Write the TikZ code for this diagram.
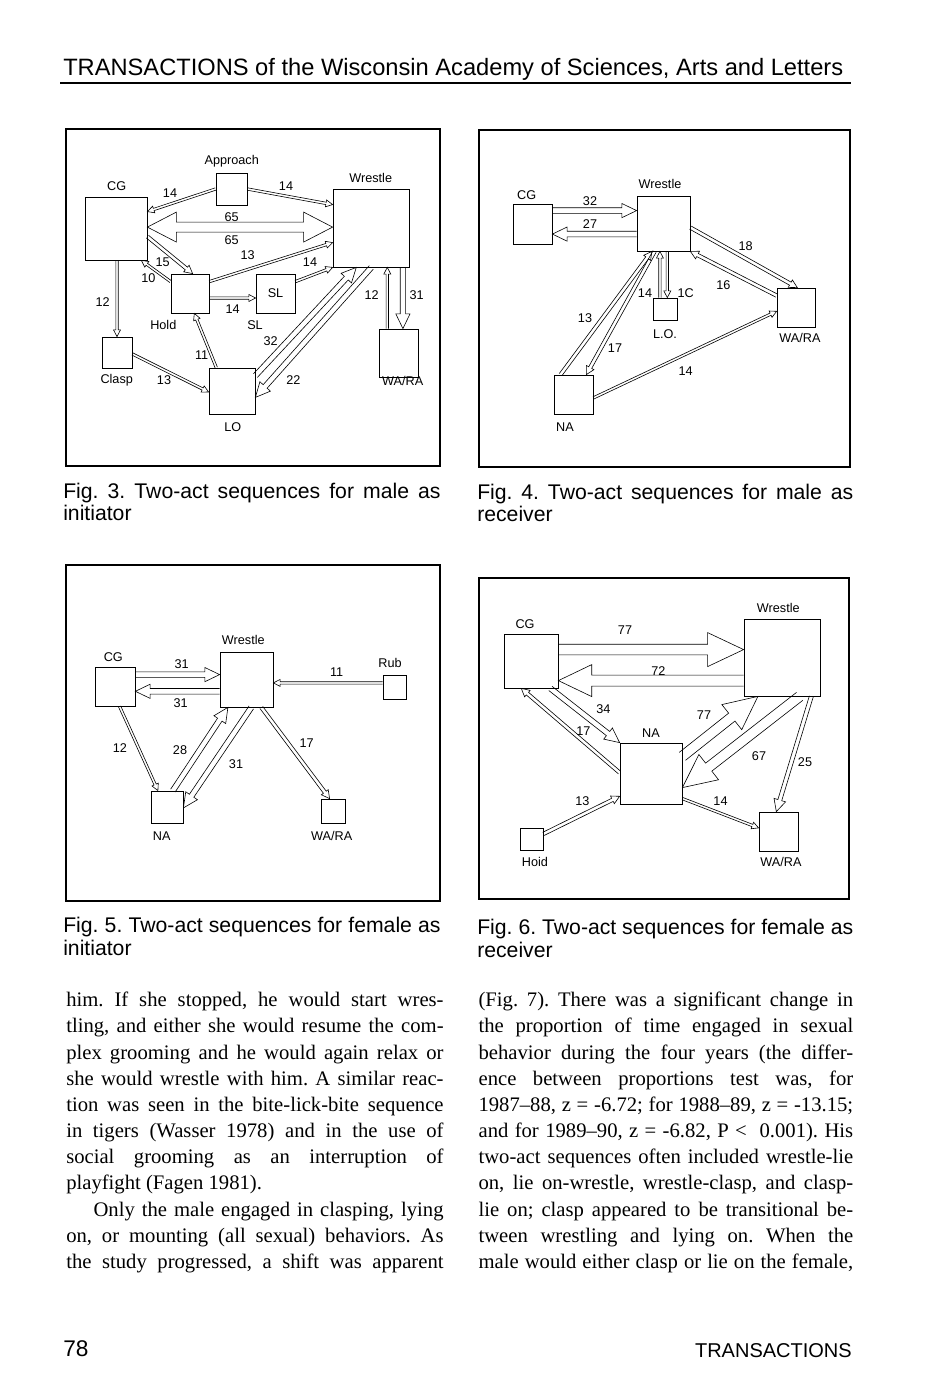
\documentclass[tikz,border=0pt]{standalone}
\usepackage{fontspec}
\setmainfont{Liberation Serif}
\newfontfamily\hv{Liberation Sans}
\usetikzlibrary{calc}
\frenchspacing
\tikzset{
 box/.style={draw, line width=0.6pt, inner sep=0pt, font=\hv\fontsize{9.5}{11}\selectfont},
 lbl/.style={inner sep=0pt, font=\hv\fontsize{9.5}{11}\selectfont},
 conn/.style={line width=0.45pt, line join=miter},
 frame/.style={draw, line width=1.5pt},
 body/.style={anchor=base west, inner sep=0pt, font=\fontsize{15.5}{19}\selectfont},
 capt/.style={anchor=base west, inner sep=0pt, font=\hv\fontsize{15.9}{19}\selectfont},
}
\newcommand\harr[5]{%
 \path #1 coordinate (hA);
 \path #2 coordinate (hB);
 \path ($(hB)!#5!(hA)$) coordinate (hN);
 \draw[conn] ($(hA)!#3!90:(hB)$) -- ($(hN)!#3!90:(hB)$) -- ($(hN)!#4!90:(hB)$) -- (hB) -- ($(hN)!#4!-90:(hB)$) -- ($(hN)!#3!-90:(hB)$) -- ($(hA)!#3!-90:(hB)$);
}
\newcommand\dharr[5]{%
 \path #1 coordinate (hA);
 \path #2 coordinate (hB);
 \path ($(hA)!#5!(hB)$) coordinate (hM);
 \path ($(hB)!#5!(hA)$) coordinate (hN);
 \draw[conn] (hA) -- ($(hM)!#4!90:(hB)$) -- ($(hM)!#3!90:(hB)$) -- ($(hN)!#3!90:(hB)$) -- ($(hN)!#4!90:(hB)$) -- (hB) -- ($(hN)!#4!-90:(hB)$) -- ($(hN)!#3!-90:(hB)$) -- ($(hM)!#3!-90:(hB)$) -- ($(hM)!#4!-90:(hB)$) -- cycle;
}
\newcommand\arrT[2]{\harr{#1}{#2}{0.9pt}{2.6pt}{5pt}}
\newcommand\arrS[2]{\harr{#1}{#2}{1.3pt}{3.2pt}{6pt}}
\newcommand\arrM[2]{\harr{#1}{#2}{2pt}{5.3pt}{11pt}}
\newcommand\bx[6]{\node[box, minimum width={(#4-#2)*0.75pt}, minimum height={(#5-#3)*0.75pt}] (#1) at ({(#2+#4)/2},{(#3+#5)/2}) {#6};}
\begin{document}
\begin{tikzpicture}[x=0.75pt,y=-0.75pt]
\useasboundingbox[fill=white] (0,0) rectangle (933,1380);

% header
\node[anchor=base west, inner sep=0pt, font=\hv\fontsize{17.75}{20}\selectfont] (hdr) at (63,76) {TRANSACTIONS of the Wisconsin Academy of Sciences, Arts and Letters};
\coordinate (rl) at (60,83);
\coordinate (rr) at (851,83);
\draw[line width=1.1pt] (rl) -- (rr);

% frames
\node[frame, minimum width={374*0.75pt}, minimum height={337*0.75pt}, inner sep=0pt] (f3) at (253,297.5) {};
\node[frame, minimum width={371*0.75pt}, minimum height={337*0.75pt}, inner sep=0pt] (f4) at (664.5,298.5) {};
\node[frame, minimum width={374*0.75pt}, minimum height={336*0.75pt}, inner sep=0pt] (f5) at (253,733) {};
\node[frame, minimum width={370*0.75pt}, minimum height={321*0.75pt}, inner sep=0pt] (f6) at (664,738.5) {};

% ---------- Fig 3 ----------
\bx{acg}{85}{197}{147}{260}{}
\bx{aap}{216}{173}{247}{205}{}
\bx{awr}{333}{189}{409}{267}{}
\bx{ahold}{171}{274}{209}{313}{}
\bx{asl}{256}{274}{295}{313}{SL}
\bx{acl}{102}{337}{132}{368}{}
\bx{alo}{209}{368}{255}{414}{}
\bx{awa}{379}{329}{418}{377}{}
\node[lbl] (aL1) at (231.7,161.7) {Approach};
\node[lbl] (aL2) at (116.7,185.7) {CG};
\node[lbl] (aL3) at (370.7,177.7) {Wrestle};
\node[lbl] (aL4) at (163.3,325) {Hold};
\node[lbl] (aL5) at (255,325) {SL};
\node[lbl] (aL6) at (116.7,380) {Clasp};
\node[lbl] (aL7) at (232.7,426.7) {LO};
\node[lbl] (aL8) at (402.7,381) {WA/RA};
\arrT{(aap.west)}{($(acg.north east)+(0,15)$)}
\arrT{(aap.east)}{($(awr.north west)+(0,16)$)}
\dharr{($(acg.north east)+(0,30.5)$)}{($(awr.north west)+(0,38.5)$)}{3.75pt}{11.25pt}{21.75pt}
\arrS{($(acg.north east)+(0,40)$)}{($(ahold.north west)+(22,0)$)}
\arrT{($(ahold.north west)+(0,8)$)}{($(acg.south east)+(-6,0)$)}
\arrT{($(ahold.north east)+(0,8)$)}{($(awr.north west)+(0,54)$)}
\arrT{($(asl.north east)+(0,8)$)}{(awr.south west)}
\arrT{($(ahold.east)+(0,4.5)$)}{($(asl.west)+(0,4.5)$)}
\arrT{($(acg.south)+(1,0)$)}{(acl.north)}
\arrT{($(acl.east)+(0,1.5)$)}{($(alo.west)+(0,1)$)}
\arrT{($(alo.north west)+(7.7,0)$)}{($(ahold.south)+(4.3,0)$)}
\arrM{($(alo.north east)+(0,8)$)}{($(awr.south west)+(23.7,0)$)}
\arrM{($(awr.south west)+(38.7,0)$)}{($(alo.south east)+(0,-17)$)}
\arrT{($(awa.north west)+(8.7,0)$)}{($(awr.south west)+(54.7,0)$)}
\arrM{($(awr.south west)+(70.3,0)$)}{($(awa.north west)+(24.3,0)$)}
\node[lbl] (aN1) at (170,193.3) {14};
\node[lbl] (aN2) at (286,185.7) {14};
\node[lbl] (aN3) at (231.7,216.7) {65};
\node[lbl] (aN4) at (231.7,240) {65};
\node[lbl] (aN5) at (162.7,262.3) {15};
\node[lbl] (aN6) at (148.3,277.7) {10};
\node[lbl] (aN7) at (247.7,255) {13};
\node[lbl] (aN8) at (310,262.3) {14};
\node[lbl] (aN9) at (232.7,309.3) {14};
\node[lbl] (aN10) at (102.7,301.7) {12};
\node[lbl] (aN11) at (164,380) {13};
\node[lbl] (aN12) at (201.7,355) {11};
\node[lbl] (aN13) at (270.7,341) {32};
\node[lbl] (aN14) at (293.3,380) {22};
\node[lbl] (aN15) at (371.7,295) {12};
\node[lbl] (aN16) at (416.7,295) {31};

% ---------- Fig 4 ----------
\bx{bcg}{513}{204}{552}{244}{}
\bx{bwr}{637}{196}{690}{251}{}
\bx{blo}{653}{298}{677}{320}{}
\bx{bwa}{777}{288}{815}{327}{}
\bx{bna}{554}{375}{593}{414}{}
\node[lbl] (bL1) at (526.7,195) {CG};
\node[lbl] (bL2) at (660,184.3) {Wrestle};
\node[lbl] (bL3) at (665,334.3) {L.O.};
\node[lbl] (bL4) at (800,338.3) {WA/RA};
\node[lbl] (bL5) at (565,426.7) {NA};
\harr{($(bcg.north east)+(0,7)$)}{($(bwr.north west)+(0,15)$)}{2.1pt}{5.3pt}{11pt}
\harr{($(bwr.north west)+(0,38.5)$)}{($(bcg.north east)+(0,30.5)$)}{2.1pt}{5.3pt}{11pt}
\arrS{($(bwr.north east)+(0,32)$)}{($(bwa.north west)+(20.7,0)$)}
\arrS{($(bwa.north west)+(0,8)$)}{(bwr.south east)}
\arrS{($(bna.north west)+(7,0)$)}{($(bwr.south west)+(15.3,0)$)}
\arrS{($(bwr.south west)+(18,0)$)}{($(bna.north west)+(32.7,0)$)}
\arrT{($(blo.north west)+(7.3,0)$)}{($(bwr.south west)+(23.3,0)$)}
\arrT{($(bwr.south west)+(30.7,0)$)}{($(blo.north west)+(14.7,0)$)}
\arrT{($(bna.north east)+(0,23.3)$)}{($(bwa.north west)+(0,23.7)$)}
\node[lbl] (bN1) at (590,201) {32};
\node[lbl] (bN2) at (590,224.3) {27};
\node[lbl] (bN3) at (745.7,245.7) {18};
\node[lbl] (bN4) at (723.3,285) {16};
\node[lbl] (bN5) at (585,317.7) {13};
\node[lbl] (bN6) at (615,347.7) {17};
\node[lbl] (bN7) at (645,293.3) {14};
\node[lbl] (bN8) at (685.7,293.3) {1C};
\node[lbl] (bN9) at (685.7,371) {14};

% ---------- Fig 5 ----------
\bx{ccg}{95}{667}{135}{706}{}
\bx{cwr}{220}{652}{273}{707}{}
\bx{crub}{383}{675}{406}{699}{}
\bx{cna}{151}{791}{183}{823}{}
\bx{cwa}{321}{799}{345}{823}{}
\node[lbl] (cL1) at (113.3,656.7) {CG};
\node[lbl] (cL2) at (243.3,640) {Wrestle};
\node[lbl] (cL3) at (390,663.3) {Rub};
\node[lbl] (cL4) at (161.7,836) {NA};
\node[lbl] (cL5) at (331.7,836) {WA/RA};
\harr{($(ccg.north east)+(0,8)$)}{($(cwr.north west)+(0,23)$)}{2.1pt}{5.3pt}{11pt}
\harr{($(cwr.north west)+(0,39.7)$)}{($(ccg.north east)+(0,24.7)$)}{2.1pt}{5.3pt}{11pt}
\arrT{($(crub.north west)+(0,8.3)$)}{($(cwr.north east)+(0,31.3)$)}
\arrT{($(ccg.south west)+(25,0)$)}{($(cna.north west)+(7.3,0)$)}
\arrM{($(cna.north west)+(22.3,0)$)}{($(cwr.south west)+(8.3,0)$)}
\arrM{($(cwr.south west)+(31.7,0)$)}{($(cna.north east)+(0,17.3)$)}
\arrS{($(cwr.south west)+(41.7,0)$)}{($(cwa.north west)+(9,0)$)}
\node[lbl] (cN1) at (181.7,664) {31};
\node[lbl] (cN2) at (180.7,702.7) {31};
\node[lbl] (cN3) at (336.7,671.7) {11};
\node[lbl] (cN4) at (120,748.3) {12};
\node[lbl] (cN5) at (180,750) {28};
\node[lbl] (cN6) at (236,764) {31};
\node[lbl] (cN7) at (306.7,743.3) {17};

% ---------- Fig 6 ----------
\bx{dcg}{504}{634}{558}{688}{}
\bx{dwr}{744}{619}{820}{696}{}
\bx{dna}{620}{743}{682}{804}{}
\bx{dhold}{520}{828}{543}{850}{}
\bx{dwa}{759}{812}{798}{851}{}
\node[lbl] (dL1) at (525,624.3) {CG};
\node[lbl] (dL2) at (778.3,607.7) {Wrestle};
\node[lbl] (dL3) at (651,733.3) {NA};
\node[lbl] (dL4) at (535,862.3) {Hoid};
\node[lbl] (dL5) at (781,862.3) {WA/RA};
\harr{($(dcg.north east)+(0,16)$)}{($(dwr.north west)+(0,31)$)}{4pt}{12.75pt}{27pt}
\harr{($(dwr.north west)+(0,62)$)}{($(dcg.north east)+(0,47)$)}{4.1pt}{12pt}{25pt}
\arrM{($(dcg.south east)+(-8,0)$)}{(dna.north west)}
\arrS{($(dna.north west)+(0,30)$)}{($(dcg.south west)+(17.7,0)$)}
\harr{($(dna.north east)+(0,13.7)$)}{($(dwr.south west)+(14.3,0)$)}{3.8pt}{12pt}{25pt}
\harr{($(dwr.south west)+(56,0)$)}{($(dna.north east)+(0,45)$)}{3.8pt}{12pt}{25pt}
\harr{($(dwr.south west)+(67.7,0)$)}{($(dwa.north west)+(17.7,0)$)}{1.5pt}{4.5pt}{9pt}
\arrS{($(dhold.north east)+(0,6.3)$)}{($(dna.north west)+(0,53.7)$)}
\arrT{($(dna.north east)+(0,56)$)}{($(dwa.north west)+(0,16.3)$)}
\node[lbl] (dN1) at (625,630) {77};
\node[lbl] (dN2) at (658.3,671) {72};
\node[lbl] (dN3) at (603.3,709) {34};
\node[lbl] (dN4) at (583.3,731) {17};
\node[lbl] (dN5) at (704,715.5) {77};
\node[lbl] (dN6) at (759,756) {67};
\node[lbl] (dN7) at (805,761.7) {25};
\node[lbl] (dN8) at (582.3,801) {13};
\node[lbl] (dN9) at (720.5,801) {14};

% captions
\node[capt] (c3a) at (63,498) {\makebox[283pt][s]{Fig. 3. Two-act sequences for male as}};
\node[capt] (c3b) at (63,520.5) {initiator};
\node[capt] (c4a) at (477,499) {\makebox[282pt][s]{Fig. 4. Two-act sequences for male as}};
\node[capt] (c4b) at (477,521.5) {receiver};
\node[capt] (c5a) at (63,932) {\makebox[283pt][s]{Fig. 5. Two-act sequences for female as}};
\node[capt] (c5b) at (63,955) {initiator};
\node[capt] (c6a) at (477,934) {\makebox[282pt][s]{Fig. 6. Two-act sequences for female as}};
\node[capt] (c6b) at (477,957.5) {receiver};

% body text, left column
\node[body] (t1) at (66,1006.7) {\makebox[283pt][s]{him. If she stopped, he would start wres-}};
\node[body] (t2) at (66,1032.9) {\makebox[283pt][s]{tling, and either she would resume the com-}};
\node[body] (t3) at (66,1059.0) {\makebox[283pt][s]{plex grooming and he would again relax or}};
\node[body] (t4) at (66,1085.2) {\makebox[283pt][s]{she would wrestle with him. A similar reac-}};
\node[body] (t5) at (66,1111.3) {\makebox[283pt][s]{tion was seen in the bite-lick-bite sequence}};
\node[body] (t6) at (66,1137.5) {\makebox[283pt][s]{in tigers (Wasser 1978) and in the use of}};
\node[body] (t7) at (66,1163.7) {\makebox[283pt][s]{social grooming as an interruption of}};
\node[body] (t8) at (66,1189.8) {playfight (Fagen 1981).};
\node[body] (t9) at (93.3,1216.0) {\makebox[262.5pt][s]{Only the male engaged in clasping, lying}};
\node[body] (t10) at (66,1242.1) {\makebox[283pt][s]{on, or mounting (all sexual) behaviors. As}};
\node[body] (t11) at (66,1268.3) {\makebox[283pt][s]{the study progressed, a shift was apparent}};

% body text, right column
\node[body] (u1) at (478.3,1006.7) {\makebox[281pt][s]{(Fig. 7). There was a significant change in}};
\node[body] (u2) at (478.3,1032.9) {\makebox[281pt][s]{the proportion of time engaged in sexual}};
\node[body] (u3) at (478.3,1059.0) {\makebox[281pt][s]{behavior during the four years (the differ-}};
\node[body] (u4) at (478.3,1085.2) {\makebox[281pt][s]{ence between proportions test was, for}};
\node[body] (u5) at (478.3,1111.3) {\makebox[281pt][s]{1987–88, z = -6.72; for 1988–89, z = -13.15;}};
\node[body] (u6) at (478.3,1137.5) {\makebox[281pt][s]{and for 1989–90, z = -6.82, P <\ \ 0.001). His}};
\node[body] (u7) at (478.3,1163.7) {\makebox[281pt][s]{two-act sequences often included wrestle-lie}};
\node[body] (u8) at (478.3,1189.8) {\makebox[281pt][s]{on, lie on-wrestle, wrestle-clasp, and clasp-}};
\node[body] (u9) at (478.3,1216.0) {\makebox[281pt][s]{lie on; clasp appeared to be transitional be-}};
\node[body] (u10) at (478.3,1242.1) {\makebox[281pt][s]{tween wrestling and lying on. When the}};
\node[body] (u11) at (478.3,1268.3) {\makebox[281pt][s]{male would either clasp or lie on the female,}};

% footer
\node[anchor=base west, inner sep=0pt, font=\hv\fontsize{17}{20}\selectfont] (pg) at (63,1356) {78};
\node[anchor=base east, inner sep=0pt, font=\hv\fontsize{15}{18}\selectfont] (ft) at (852,1357) {TRANSACTIONS};
\end{tikzpicture}
\end{document}
